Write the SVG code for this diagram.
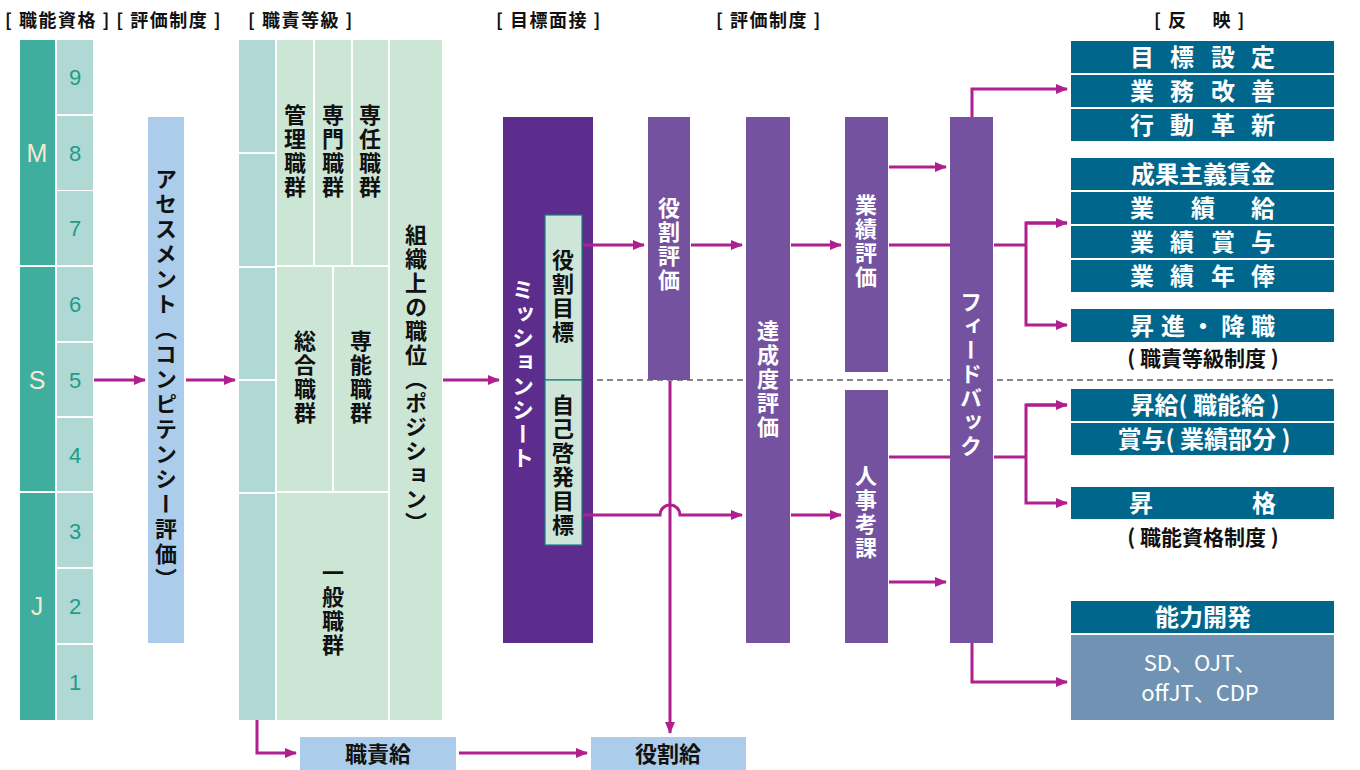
<svg xmlns="http://www.w3.org/2000/svg" width="1360" height="770" viewBox="0 0 1360 770">
<defs>
<marker id="ah" markerWidth="12" markerHeight="10" refX="11" refY="5" orient="auto" markerUnits="userSpaceOnUse">
<path d="M0,0 L12,5 L0,10 Z" fill="#b01f8e"/>
</marker>
<style>
text{font-family:"Noto Sans CJK JP","Noto Sans",sans-serif;}
.hd{font-size:18px;font-weight:bold;fill:#111;letter-spacing:1.5px;}
.vt{writing-mode:vertical-rl;font-weight:bold;font-size:22px;letter-spacing:2px;text-anchor:middle;}
.blk{fill:#111;}
.wh{fill:#fff;}
.teal{fill:#3fae9f;}
.tealL{fill:#b0d8d4;}
.grn{fill:#cce6d6;}
.blue{fill:#abcdeb;}
.pd{fill:#5c2d8c;}
.pm{fill:#7452a0;}
.nv{fill:#00668c;}
.sl{fill:#7093b4;}
.num{font-family:"Liberation Sans",Arial,sans-serif;font-size:22px;fill:#1e9c8a;text-anchor:middle;}
.let{font-family:"Liberation Sans",Arial,sans-serif;font-size:25px;fill:#f3ead0;text-anchor:middle;}
.rc{font-size:24px;font-weight:bold;fill:#fff;text-anchor:middle;}
.cap{font-size:21px;font-weight:bold;fill:#111;text-anchor:middle;}
.ln{stroke:#b01f8e;stroke-width:3;fill:none;}
</style>
</defs>
<rect width="1360" height="770" fill="#fff"/>

<g id="headers">
<text class="hd" x="5" y="27">[ 職能資格 ] [ 評価制度 ]</text>
<text class="hd" x="248" y="27">[ 職責等級 ]</text>
<text class="hd" x="496" y="27">[ 目標面接 ]</text>
<text class="hd" x="716" y="27">[ 評価制度 ]</text>
<text class="hd" x="1154" y="27">[ 反　 映 ]</text>
</g>

<line x1="597" y1="380" x2="1336" y2="380" stroke="#111" stroke-width="1" stroke-dasharray="6,4"/>

<g id="grade-scale">
<rect class="teal" x="20" y="40" width="35" height="225"/>
<rect class="teal" x="20" y="267" width="35" height="224"/>
<rect class="teal" x="20" y="493" width="35" height="227"/>
<text class="let" x="37" y="162">M</text>
<text class="let" x="37" y="389">S</text>
<text class="let" x="37" y="615">J</text>
<rect class="tealL" x="57" y="40" width="36" height="74"/>
<rect class="tealL" x="57" y="116" width="36" height="74"/>
<rect class="tealL" x="57" y="191" width="36" height="74"/>
<rect class="tealL" x="57" y="267" width="36" height="74"/>
<rect class="tealL" x="57" y="343" width="36" height="73"/>
<rect class="tealL" x="57" y="418" width="36" height="73"/>
<rect class="tealL" x="57" y="493" width="36" height="74"/>
<rect class="tealL" x="57" y="569" width="36" height="74"/>
<rect class="tealL" x="57" y="645" width="36" height="75"/>
<text class="num" x="75" y="85">9</text>
<text class="num" x="75" y="161">8</text>
<text class="num" x="75" y="236">7</text>
<text class="num" x="75" y="312">6</text>
<text class="num" x="75" y="388">5</text>
<text class="num" x="75" y="463">4</text>
<text class="num" x="75" y="539">3</text>
<text class="num" x="75" y="614">2</text>
<text class="num" x="75" y="690">1</text>
</g>

<g id="assessment">
<rect class="blue" x="148" y="117" width="36" height="526"/>
<text class="vt blk" x="166" y="380" style="letter-spacing:3px">アセスメント（コンピテンシー評価）</text>
</g>

<g id="job-grade">
<rect class="tealL" x="239" y="40" width="36" height="112"/>
<rect class="tealL" x="239" y="154" width="36" height="112"/>
<rect class="tealL" x="239" y="268" width="36" height="111"/>
<rect class="tealL" x="239" y="381" width="36" height="111"/>
<rect class="tealL" x="239" y="494" width="36" height="226"/>
<rect class="grn" x="277" y="40" width="36" height="225"/>
<rect class="grn" x="315" y="40" width="36" height="225"/>
<rect class="grn" x="353" y="40" width="35" height="225"/>
<rect class="grn" x="277" y="267" width="55" height="224"/>
<rect class="grn" x="334" y="267" width="54" height="224"/>
<rect class="grn" x="277" y="493" width="111" height="227"/>
<rect class="grn" x="390" y="40" width="52" height="680"/>
<text class="vt blk" x="295" y="152">管理職群</text>
<text class="vt blk" x="333" y="152">専門職群</text>
<text class="vt blk" x="370" y="152">専任職群</text>
<text class="vt blk" x="305" y="378">総合職群</text>
<text class="vt blk" x="361" y="378">専能職群</text>
<text class="vt blk" x="333" y="610">一般職群</text>
<text class="vt blk" x="416" y="380">組織上の職位（ポジション）</text>
</g>

<g id="mission-sheet">
<rect class="pd" x="503" y="117" width="90" height="526"/>
<text class="vt wh" x="523" y="375">ミッションシート</text>
<rect x="545" y="215" width="37" height="165" fill="#cde6d8" stroke="#1b7a8a" stroke-width="1.2"/>
<rect x="545" y="380" width="37" height="165" fill="#cde6d8" stroke="#1b7a8a" stroke-width="1.2"/>
<text class="vt blk" x="563" y="297">役割目標</text>
<text class="vt blk" x="563" y="466">自己啓発目標</text>
</g>

<g id="role-eval">
<rect class="pm" x="648" y="117" width="42" height="263"/>
<text class="vt wh" x="669" y="245">役割評価</text>
</g>
<g id="achievement-eval">
<rect class="pm" x="746" y="117" width="44" height="526"/>
<text class="vt wh" x="768" y="380">達成度評価</text>
</g>
<g id="performance-eval">
<rect class="pm" x="845" y="117" width="43" height="255"/>
<text class="vt wh" x="866" y="242">業績評価</text>
</g>
<g id="personnel-eval">
<rect class="pm" x="845" y="390" width="43" height="253"/>
<text class="vt wh" x="866" y="513">人事考課</text>
</g>
<g id="feedback">
<rect class="pm" x="950" y="117" width="43" height="526"/>
<text class="vt wh" x="971" y="375">フィードバック</text>
</g>

<g id="reflect-goals">
<rect class="nv" x="1071" y="41" width="263" height="32"/>
<rect class="nv" x="1071" y="75" width="263" height="32"/>
<rect class="nv" x="1071" y="109" width="263" height="32"/>
<text class="rc" x="1142" y="66">目</text><text class="rc" x="1182" y="66">標</text><text class="rc" x="1223" y="66">設</text><text class="rc" x="1263" y="66">定</text>
<text class="rc" x="1142" y="100">業</text><text class="rc" x="1182" y="100">務</text><text class="rc" x="1223" y="100">改</text><text class="rc" x="1263" y="100">善</text>
<text class="rc" x="1142" y="134">行</text><text class="rc" x="1182" y="134">動</text><text class="rc" x="1223" y="134">革</text><text class="rc" x="1263" y="134">新</text>
</g>

<g id="reflect-pay">
<rect class="nv" x="1071" y="158" width="263" height="32"/>
<rect class="nv" x="1071" y="192" width="263" height="32"/>
<rect class="nv" x="1071" y="226" width="263" height="32"/>
<rect class="nv" x="1071" y="260" width="263" height="32"/>
<text class="rc" x="1203" y="183">成果主義賃金</text>
<text class="rc" x="1142" y="217">業</text><text class="rc" x="1203" y="217">績</text><text class="rc" x="1263" y="217">給</text>
<text class="rc" x="1142" y="251">業</text><text class="rc" x="1182" y="251">績</text><text class="rc" x="1223" y="251">賞</text><text class="rc" x="1263" y="251">与</text>
<text class="rc" x="1142" y="285">業</text><text class="rc" x="1182" y="285">績</text><text class="rc" x="1223" y="285">年</text><text class="rc" x="1263" y="285">俸</text>
</g>

<g id="reflect-promotion">
<rect class="nv" x="1071" y="309" width="263" height="33"/>
<text class="rc" x="1142" y="335">昇</text><text class="rc" x="1173" y="335">進</text><text class="rc" x="1203" y="335">・</text><text class="rc" x="1233" y="335">降</text><text class="rc" x="1263" y="335">職</text>
<text class="cap" x="1203" y="366">( 職責等級制度 )</text>
</g>

<g id="reflect-raise">
<rect class="nv" x="1071" y="389" width="263" height="32"/>
<rect class="nv" x="1071" y="423" width="263" height="32"/>
<text class="rc" x="1205" y="414">昇給( 職能給 )</text>
<text class="rc" x="1204" y="448">賞与( 業績部分 )</text>
</g>

<g id="reflect-upgrade">
<rect class="nv" x="1071" y="487" width="263" height="32"/>
<text class="rc" x="1141" y="512">昇</text><text class="rc" x="1264" y="512">格</text>
<text class="cap" x="1203" y="545">( 職能資格制度 )</text>
</g>

<g id="reflect-development">
<rect class="nv" x="1071" y="601" width="263" height="32"/>
<text class="rc" x="1203" y="626">能力開発</text>
<rect class="sl" x="1071" y="635" width="263" height="85"/>
<text x="1200" y="671" font-size="22" fill="#fff" text-anchor="middle">SD、OJT、</text>
<text x="1200" y="701" font-size="22" fill="#fff" text-anchor="middle">offJT、CDP</text>
</g>

<g id="pay-boxes">
<rect class="blue" x="300" y="737" width="156" height="33"/>
<text x="378" y="762" font-size="22" font-weight="bold" fill="#111" text-anchor="middle">職責給</text>
<rect class="blue" x="591" y="737" width="155" height="33"/>
<text x="668" y="762" font-size="22" font-weight="bold" fill="#111" text-anchor="middle">役割給</text>
</g>

<g id="connectors">
<line class="ln" x1="94" y1="380" x2="145" y2="380" marker-end="url(#ah)"/>
<line class="ln" x1="186" y1="380" x2="235" y2="380" marker-end="url(#ah)"/>
<line class="ln" x1="443" y1="380" x2="499" y2="380" marker-end="url(#ah)"/>
<line class="ln" x1="583" y1="245" x2="644" y2="245" marker-end="url(#ah)"/>
<line class="ln" x1="691" y1="245" x2="742" y2="245" marker-end="url(#ah)"/>
<path class="ln" d="M583,515 H660 A10,10 0 0 1 680,515 H742" marker-end="url(#ah)"/>
<line class="ln" x1="670" y1="381" x2="670" y2="733" marker-end="url(#ah)"/>
<line class="ln" x1="791" y1="245" x2="841" y2="245" marker-end="url(#ah)"/>
<line class="ln" x1="791" y1="515" x2="841" y2="515" marker-end="url(#ah)"/>
<line class="ln" x1="889" y1="167" x2="946" y2="167" marker-end="url(#ah)"/>
<line class="ln" x1="889" y1="245" x2="950" y2="245"/>
<line class="ln" x1="889" y1="457" x2="950" y2="457"/>
<line class="ln" x1="889" y1="582" x2="946" y2="582" marker-end="url(#ah)"/>
<path class="ln" d="M972,117 V89 H1067" marker-end="url(#ah)"/>
<path class="ln" d="M972,643 V682 H1067" marker-end="url(#ah)"/>
<line class="ln" x1="994" y1="245" x2="1026" y2="245"/>
<path class="ln" d="M1067,223 H1026 V325 H1067" marker-end="url(#ah)"/>
<line class="ln" x1="1026" y1="223" x2="1067" y2="223" marker-end="url(#ah)"/>
<line class="ln" x1="994" y1="457" x2="1026" y2="457"/>
<path class="ln" d="M1067,405 H1026 V503 H1067" marker-end="url(#ah)"/>
<line class="ln" x1="1026" y1="405" x2="1067" y2="405" marker-end="url(#ah)"/>
<path class="ln" d="M257,720 V753 H296" marker-end="url(#ah)"/>
<line class="ln" x1="459" y1="753" x2="587" y2="753" marker-end="url(#ah)"/>
</g>
</svg>
